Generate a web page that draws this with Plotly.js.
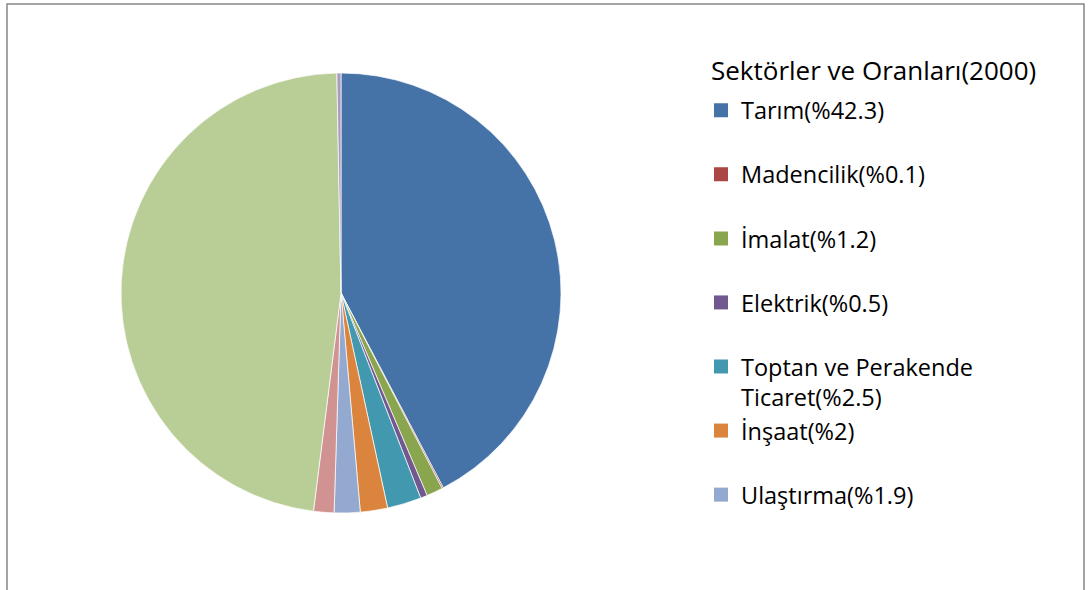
<!DOCTYPE html>
<html>
<head>
<meta charset="utf-8">
<script src="https://cdn.plot.ly/plotly-3.0.1.min.js"></script>
<style>html,body{margin:0;padding:0;background:#fff;}#chart{width:1090px;height:590px;}</style>
</head>
<body>
<div id="chart"></div>
<script>
// Sector names (only the first seven appear in the visible legend)
const sectors = ["Tarım(%42.3)", "Madencilik(%0.1)", "İmalat(%1.2)", "Elektrik(%0.5)",
  "Toptan ve Perakende<br>Ticaret(%2.5)", "İnşaat(%2)", "Ulaştırma(%1.9)",
  "Mali Kurumlar(%1.5)", "Hizmetler(%47.7)", "Diğer(%0.3)"];
const shares = [42.3, 0.1, 1.2, 0.5, 2.5, 2.0, 1.9, 1.5, 47.7, 0.3];
const colors = ["#4572A7", "#AA4643", "#89A54E", "#71588F", "#4198AF", "#DB843D",
  "#93A9CF", "#D19392", "#B9CD96", "#A99BBD"];
// legend groups (Toptan and İnşaat sit directly under each other in the reference)
const legendGroups = ["g0", "g1", "g2", "g3", "g4", "g4", "g6"];
const legendTitle = "Sektörler ve Oranları(2000)";

const FONT = "Open Sans, Lato, sans-serif";

const traces = [{
  type: "pie",
  labels: sectors,
  values: shares,
  sort: false,
  direction: "clockwise",
  rotation: 0,
  textinfo: "none",
  hoverinfo: "label+percent",
  showlegend: false,
  marker: {colors: colors, line: {color: "rgba(255,255,255,0.7)", width: 1}},
  domain: {x: [121/1090, 561/1090], y: [77/590, 517/590]}
}];

for (let i = 0; i < legendGroups.length; i++) {
  traces.push({
    type: "scatter",
    mode: "markers",
    x: [null], y: [null],
    name: sectors[i],
    legendgroup: legendGroups[i],
    showlegend: true,
    marker: {symbol: "square", size: 14, color: colors[i]},
    hoverinfo: "skip"
  });
}

const layout = {
  width: 1090, height: 590,
  margin: {l: 0, r: 0, t: 0, b: 0},
  paper_bgcolor: "#ffffff",
  plot_bgcolor: "#ffffff",
  font: {family: FONT, color: "#000000", size: 23.5},
  xaxis: {visible: false},
  yaxis: {visible: false},
  showlegend: true,
  legend: {
    x: 701/1090, y: 1 - 88.5/590, xanchor: "left", yanchor: "top",
    bgcolor: "rgba(0,0,0,0)",
    font: {family: FONT, size: 23.5, color: "#000"},
    traceorder: "grouped",
    tracegroupgap: 30.5,
    valign: "top",
    itemclick: false, itemdoubleclick: false
  },
  annotations: [{
    text: legendTitle, xref: "paper", yref: "paper",
    x: 709/1090, y: 1 - 70/590, xanchor: "left", yanchor: "middle",
    showarrow: false, font: {family: FONT, size: 26, color: "#000"}
  }],
  shapes: [{
    type: "rect", xref: "paper", yref: "paper",
    x0: 7/1090, x1: 1084/1090, y0: -0.1, y1: 1 - 4/590,
    line: {color: "#878787", width: 1.5}, fillcolor: "rgba(0,0,0,0)"
  }]
};

Plotly.newPlot("chart", traces, layout, {displayModeBar: false});
</script>
</body>
</html>
